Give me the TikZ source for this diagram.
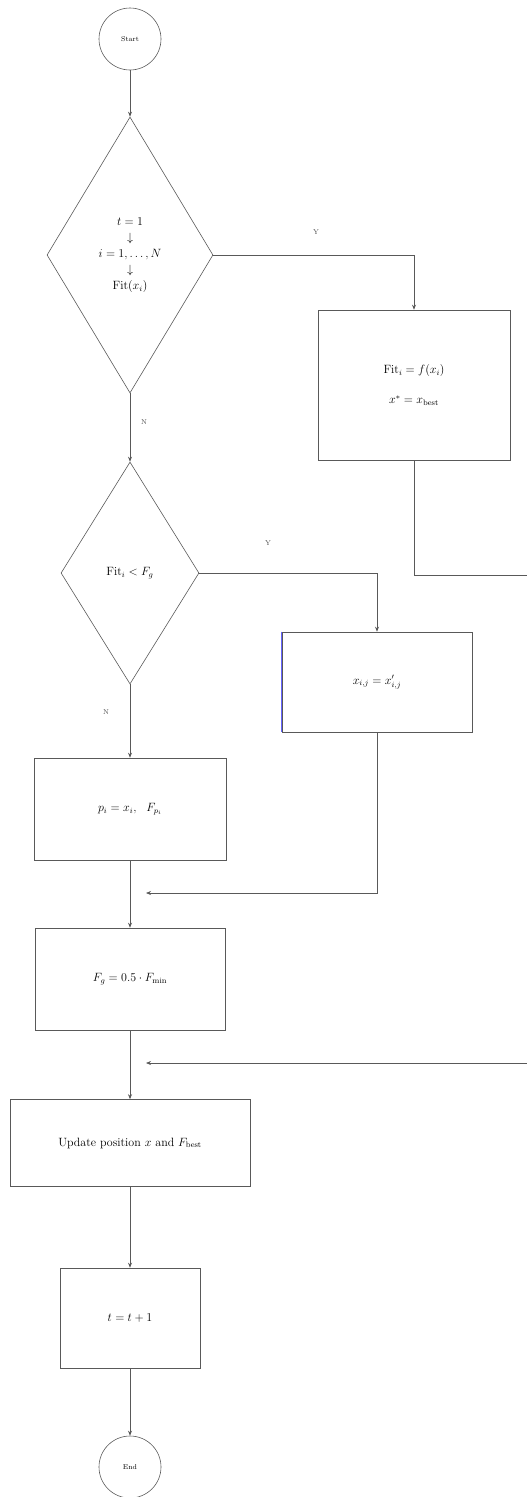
\documentclass[tikz,border=0pt]{standalone}
\usetikzlibrary{shapes.geometric,arrows.meta}
\begin{document}
\begin{tikzpicture}[x=1pt,y=-1pt,
  every node/.style={font=\large},
  ln/.style={draw=black!65, line width=0.6pt},
  arr/.style={ln, -{Stealth[length=5pt,width=4pt]}},
  term/.style={circle, draw=black!65, line width=0.6pt, minimum size=62pt, inner sep=0pt, font=\scriptsize},
  dec/.style={diamond, draw=black!65, line width=0.6pt, inner sep=0pt, align=center},
  proc/.style={rectangle, draw=black!65, line width=0.6pt, align=center, inner sep=2pt},
  lab/.style={font=\scriptsize, text=black!70}]
\useasboundingbox (0,0) rectangle (527,1497);

\node[term] (start) at (130,39) {Start};
\node[dec, minimum width=166pt, minimum height=276pt] (d1) at (130,255)
  {$t=1$\\[2pt] $\downarrow$\\[2pt] $i=1,\dots,N$\\[2pt] $\downarrow$\\[2pt] $\mathrm{Fit}(x_i)$};
\node[proc, minimum width=192pt, minimum height=150pt] (b1) at (414,385)
  {$\mathrm{Fit}_i = f(x_i)$\\[16pt] $x^{*} = x_{\mathrm{best}}$};
\node[dec, minimum width=138pt, minimum height=222pt] (d2) at (130,573)
  {$\mathrm{Fit}_i < F_g$};
\node[proc, minimum width=190pt, minimum height=100pt] (b3) at (377,682)
  {$x_{i,j} = x'_{i,j}$};
\node[proc, minimum width=192pt, minimum height=102pt] (b4) at (130,809)
  {$p_i = x_i,\ \ F_{p_i}$};
\node[proc, minimum width=190pt, minimum height=102pt] (b5) at (130,979)
  {$F_{g} = 0.5\cdot F_{\min}$};
\node[proc, minimum width=240pt, minimum height=87pt] (b6) at (130,1143)
  {Update position $x$ and $F_{\mathrm{best}}$};
\node[proc, minimum width=140pt, minimum height=100pt] (b7) at (130,1318)
  {$t = t+1$};
\node[term] (end) at (130,1467) {End};

\draw[blue!60, line width=1.4pt] (b3.north west) -- (b3.south west);

\coordinate (r1) at (527,575);
\coordinate (j1) at (146,893);
\coordinate (r2) at (527,1063);
\coordinate (j2) at (146,1063);

\draw[arr] (start) -- (d1);
\draw[arr] (d1.east) -| (b1.north);
\draw[arr] (d1.south) -- (d2.north);
\draw[ln] (b1.south) |- (r1);
\draw[arr] (d2.east) -| (b3.north);
\draw[arr] (d2.south) -- (b4.north);
\draw[arr] (b3.south) |- (j1);
\draw[arr] (b4.south) -- (b5.north);
\draw[arr] (r2) -- (j2);
\draw[arr] (b5.south) -- (b6.north);
\draw[arr] (b6.south) -- (b7.north);
\draw[arr] (b7.south) -- (end.north);

\node[lab] (l1) at (316,232) {Y};
\node[lab] (l2) at (144,422) {N};
\node[lab] (l3) at (268,543) {Y};
\node[lab] (l4) at (106,712) {N};
\end{tikzpicture}
\end{document}
